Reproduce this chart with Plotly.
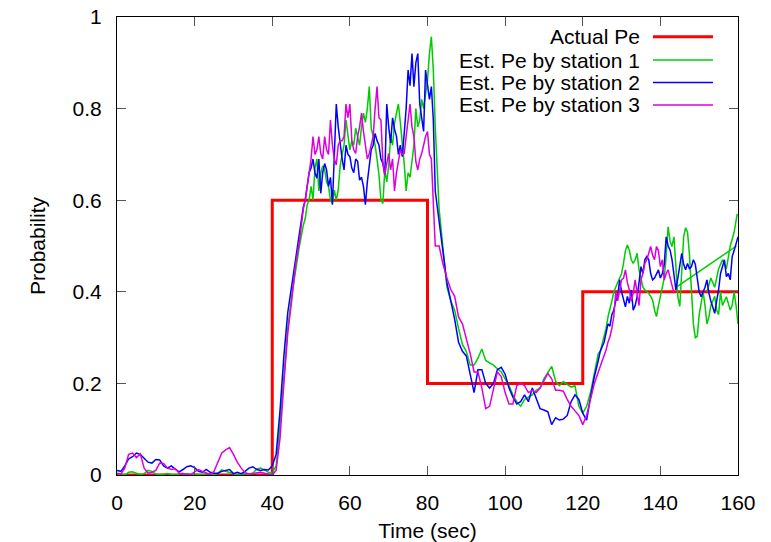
import plotly.graph_objects as go

# ---- data -----------------------------------------------------------------
series_names = ["Actual Pe", "Est. Pe by station 1", "Est. Pe by station 2", "Est. Pe by station 3"]

# actual error probability (piecewise constant)
actual_t = [0, 40, 80, 120, 160]
actual_p = [0.0, 0.6, 0.2, 0.4, 0.4]

# sampling grid of the estimators: 1 s while quiet, 0.5 s in the busy stretches
time_a = list(range(0, 48))
time_b = [48 + 0.5 * i for i in range(69)]     # 48 .. 82
time_c = list(range(83, 124))
time_d = [124 + 0.5 * i for i in range(73)]    # 124 .. 160
time_s = time_a + time_b + time_c + time_d

# station 2 estimate
station2_p = [
    # 0 .. 47
    0.010, 0.008, 0.020, 0.035, 0.040, 0.048, 0.045, 0.036, 0.028, 0.026,
    0.034, 0.033, 0.020, 0.015, 0.020, 0.013, 0.007, 0.012, 0.018, 0.020,
    0.016, 0.008, 0.006, 0.012, 0.006, 0.004, 0.004, 0.008, 0.010, 0.012,
    0.003, 0.006, 0.003, 0.008, 0.015, 0.018, 0.012, 0.010, 0.012, 0.011,
    0.020, 0.045, 0.140, 0.260, 0.355, 0.410, 0.465, 0.520,
    # 48 .. 82
    0.585, 0.600, 0.630, 0.660, 0.670, 0.690, 0.660, 0.648, 0.690, 0.615,
    0.660, 0.680, 0.666, 0.630, 0.650, 0.590, 0.700, 0.810, 0.760, 0.720,
    0.690, 0.666, 0.720, 0.700, 0.695, 0.670, 0.660, 0.690, 0.685, 0.644,
    0.650, 0.630, 0.590, 0.640, 0.670, 0.710, 0.720, 0.746, 0.730, 0.720,
    0.690, 0.680, 0.655, 0.810, 0.760, 0.725, 0.780, 0.755, 0.740, 0.700,
    0.720, 0.695, 0.746, 0.800, 0.884, 0.850, 0.920, 0.848, 0.900, 0.920,
    0.810, 0.780, 0.750, 0.884, 0.848, 0.820, 0.848, 0.775, 0.620,
    # 83 .. 123
    0.550, 0.480, 0.420, 0.380, 0.340, 0.290, 0.270,
    0.260, 0.220, 0.180, 0.230, 0.230, 0.200, 0.190, 0.200, 0.230, 0.235,
    0.220, 0.190, 0.170, 0.155, 0.160, 0.175, 0.160, 0.190, 0.165, 0.145,
    0.142, 0.138, 0.110, 0.125, 0.120, 0.122, 0.130, 0.160, 0.175, 0.165,
    0.135, 0.120, 0.170, 0.215,
    # 124 .. 160
    0.250, 0.270, 0.280, 0.290, 0.310, 0.330, 0.325, 0.350, 0.360, 0.380,
    0.390, 0.426, 0.400, 0.380, 0.367, 0.390, 0.375, 0.404, 0.360, 0.370,
    0.389, 0.420, 0.455, 0.440, 0.470, 0.477, 0.470, 0.440, 0.426, 0.430,
    0.440, 0.448, 0.430, 0.440, 0.460, 0.520, 0.500, 0.491, 0.470, 0.440,
    0.404, 0.430, 0.462, 0.484, 0.460, 0.448, 0.462, 0.450, 0.455, 0.470,
    0.460, 0.430, 0.400, 0.389, 0.400, 0.410, 0.426, 0.397, 0.380, 0.367,
    0.353, 0.380, 0.404, 0.440, 0.455, 0.470, 0.433, 0.440, 0.426, 0.477,
    0.490, 0.506, 0.520,
]

# station 1 estimate
station1_p = [
    # 0 .. 47
    0.003, 0.002, 0.000, 0.006, 0.007, 0.004, 0.001, 0.003, 0.010, 0.008,
    0.002, 0.000, 0.001, 0.003, 0.001, 0.000, 0.002, 0.004, 0.001, 0.000,
    0.002, 0.001, 0.000, 0.003, 0.002, 0.000, 0.004, 0.011, 0.008, 0.005,
    0.002, 0.000, 0.001, 0.003, 0.002, 0.004, 0.013, 0.015, 0.011, 0.006,
    0.004, 0.020, 0.110, 0.220, 0.320, 0.390, 0.450, 0.500,
    # 48 .. 82
    0.545, 0.560, 0.590, 0.600, 0.630, 0.600, 0.670, 0.690, 0.620, 0.660,
    0.675, 0.666, 0.640, 0.630, 0.600, 0.593, 0.622, 0.600, 0.622, 0.675,
    0.700, 0.720, 0.775, 0.740, 0.710, 0.730, 0.720, 0.757, 0.740, 0.720,
    0.760, 0.790, 0.770, 0.800, 0.848, 0.757, 0.740, 0.720, 0.690, 0.655,
    0.600, 0.593, 0.666, 0.640, 0.675, 0.739, 0.720, 0.768, 0.790, 0.810,
    0.770, 0.730, 0.680, 0.620, 0.660, 0.650, 0.690, 0.720, 0.800, 0.760,
    0.775, 0.820, 0.800, 0.830, 0.862, 0.920, 0.957, 0.884, 0.760,
    # 83 .. 123
    0.580, 0.500, 0.410, 0.380, 0.360, 0.320, 0.285,
    0.270, 0.240, 0.240, 0.255, 0.275, 0.250, 0.245, 0.240, 0.232, 0.225,
    0.210, 0.195, 0.175, 0.160, 0.150, 0.165, 0.170, 0.175, 0.185, 0.190,
    0.210, 0.225, 0.237, 0.205, 0.195, 0.204, 0.198, 0.192, 0.195, 0.150,
    0.135, 0.150, 0.180, 0.220,
    # 124 .. 160
    0.265, 0.270, 0.285, 0.300, 0.320, 0.345, 0.360, 0.380, 0.400, 0.410,
    0.420, 0.426, 0.440, 0.462, 0.490, 0.502, 0.491, 0.470, 0.462, 0.470,
    0.484, 0.448, 0.426, 0.410, 0.404, 0.400, 0.397, 0.390, 0.382, 0.360,
    0.346, 0.370, 0.389, 0.411, 0.430, 0.480, 0.542, 0.510, 0.499, 0.520,
    0.450, 0.389, 0.368, 0.450, 0.520, 0.540, 0.530, 0.480, 0.400, 0.330,
    0.300, 0.303, 0.350, 0.377, 0.400, 0.370, 0.330, 0.345, 0.370, 0.380,
    0.390, 0.360, 0.350, 0.400, 0.370, 0.380, 0.389, 0.375, 0.360, 0.370,
    0.400, 0.370, 0.330,
]
# station 1 log also holds a jump record and a short second run at the end
station1_jump_t = [144.1, 159.6]
station1_jump_p = [0.41, 0.50]
station1_tail_t = [152, 153, 154, 155, 156, 157, 158, 159, 159.8]
station1_tail_p = [0.40, 0.43, 0.41, 0.45, 0.47, 0.45, 0.50, 0.53, 0.57]

# station 3 estimate (log stops at 143.5 s)
station3_t = time_a + time_b + time_c + time_d[:40]
station3_p = [
    # 0 .. 47
    0.004, 0.002, 0.015, 0.045, 0.048, 0.038, 0.046, 0.015, 0.004, 0.006,
    0.010, 0.026, 0.025, 0.015, 0.012, 0.014, 0.004, 0.002, 0.002, 0.001,
    0.007, 0.012, 0.008, 0.004, 0.001, 0.008, 0.030, 0.048, 0.055, 0.060,
    0.045, 0.028, 0.015, 0.005, 0.002, 0.003, 0.004, 0.006, 0.004, 0.002,
    0.000, 0.010, 0.080, 0.200, 0.310, 0.380, 0.460, 0.510,
    # 48 .. 82
    0.580, 0.600, 0.630, 0.666, 0.690, 0.739, 0.700, 0.710, 0.739, 0.702,
    0.690, 0.739, 0.710, 0.700, 0.775, 0.720, 0.690, 0.677, 0.720, 0.730,
    0.730, 0.739, 0.810, 0.780, 0.810, 0.730, 0.710, 0.702, 0.739, 0.760,
    0.790, 0.750, 0.720, 0.690, 0.702, 0.720, 0.739, 0.800, 0.848, 0.780,
    0.775, 0.684, 0.655, 0.680, 0.702, 0.666, 0.690, 0.620, 0.660, 0.684,
    0.710, 0.700, 0.702, 0.739, 0.780, 0.810, 0.760, 0.739, 0.684, 0.666,
    0.690, 0.702, 0.720, 0.739, 0.750, 0.700, 0.690, 0.576, 0.500,
    # 83 .. 123
    0.500, 0.460, 0.430, 0.405, 0.390, 0.345, 0.330,
    0.300, 0.265, 0.225, 0.225, 0.190, 0.145, 0.150, 0.190, 0.225, 0.215,
    0.180, 0.155, 0.155, 0.195, 0.200, 0.195, 0.180, 0.185, 0.180, 0.190,
    0.205, 0.222, 0.210, 0.185, 0.185, 0.183, 0.165, 0.150, 0.140, 0.130,
    0.110, 0.130, 0.165, 0.200,
    # 124 .. 143.5
    0.225, 0.237, 0.250, 0.260, 0.273, 0.290, 0.302, 0.320, 0.346, 0.400,
    0.380, 0.404, 0.426, 0.430, 0.448, 0.420, 0.404, 0.380, 0.397, 0.426,
    0.397, 0.370, 0.426, 0.440, 0.462, 0.470, 0.484, 0.499, 0.480, 0.470,
    0.499, 0.490, 0.455, 0.470, 0.426, 0.440, 0.448, 0.430, 0.418, 0.397,
]

x_ticks = [0, 20, 40, 60, 80, 100, 120, 140, 160]
y_ticks = [0, 0.2, 0.4, 0.6, 0.8, 1.0]

# ---- styling ----------------------------------------------------------------
FONT = "Liberation Sans, Arial, Helvetica, sans-serif"
FS = 21
colors = ["#ff0000", "#00cc00", "#0000ff", "#dd00dd"]
widths = [3, 1.5, 1.5, 1.5]

st1_t = time_s + [None] + station1_jump_t + [None] + station1_tail_t
st1_p = station1_p + [None] + station1_jump_p + [None] + station1_tail_p

fig = go.Figure()
fig.add_trace(go.Scatter(x=actual_t, y=actual_p, mode="lines", name=series_names[0],
                         line=dict(color=colors[0], width=widths[0], shape="hv")))
fig.add_trace(go.Scatter(x=st1_t, y=st1_p, mode="lines", name=series_names[1],
                         connectgaps=False,
                         line=dict(color=colors[1], width=widths[1])))
fig.add_trace(go.Scatter(x=time_s, y=station2_p, mode="lines", name=series_names[2],
                         line=dict(color=colors[2], width=widths[2])))
fig.add_trace(go.Scatter(x=station3_t, y=station3_p, mode="lines", name=series_names[3],
                         line=dict(color=colors[3], width=widths[3])))

# gnuplot-style key: right-aligned label with the line sample on its right
key_text_x = 0.8454
key_line_x0, key_line_x1 = 0.8631, 0.9597
key_row_y = [0.957, 0.906, 0.857, 0.808]
annotations = []
shapes = []
for name, c, w, ry in zip(series_names, colors, widths, key_row_y):
    annotations.append(dict(x=key_text_x, y=ry, xref="paper", yref="paper", text=name,
                            showarrow=False, xanchor="right", yanchor="middle",
                            font=dict(family=FONT, size=FS, color="#000000")))
    shapes.append(dict(type="line", xref="paper", yref="paper", x0=key_line_x0, x1=key_line_x1,
                       y0=ry, y1=ry, line=dict(color=c, width=w)))

axis_common = dict(
    showgrid=False, zeroline=False, showline=True, linecolor="#000000", linewidth=1,
    mirror="ticks", ticks="inside", ticklen=9, tickwidth=1, tickcolor="#555555",
    tickfont=dict(family=FONT, size=FS, color="#000000"), automargin=False,
)

fig.update_layout(
    width=771, height=542,
    margin=dict(l=117, r=33, t=17, b=67),
    paper_bgcolor="#ffffff", plot_bgcolor="#ffffff",
    showlegend=False,
    font=dict(family=FONT, size=FS, color="#000000"),
    annotations=annotations, shapes=shapes,
    xaxis=dict(range=[0, 160], tickvals=x_ticks, ticklabelstandoff=9,
               title=dict(text="Time (sec)", standoff=11, font=dict(family=FONT, size=FS)),
               **axis_common),
    yaxis=dict(range=[0, 1], tickvals=y_ticks, ticklabelstandoff=10,
               title=dict(text="Probability", standoff=21, font=dict(family=FONT, size=FS)),
               **axis_common),
)

fig.write_html("out.html")
